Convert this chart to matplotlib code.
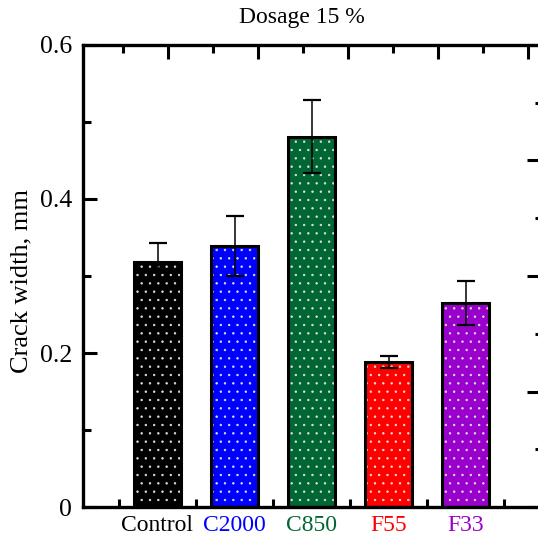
import matplotlib
matplotlib.use("Agg")
import matplotlib.pyplot as plt
from matplotlib.ticker import MultipleLocator, FixedLocator, NullFormatter

plt.rcParams['font.family'] = ['Liberation Serif', 'DejaVu Serif']
plt.rcParams['hatch.linewidth'] = 0.5

categories = ["Control", "C2000", "C850", "F55", "F33"]
values = [0.318, 0.339, 0.481, 0.188, 0.265]
errors = [0.025, 0.039, 0.047, 0.008, 0.028]
colors = ["#000000", "#0000ff", "#006633", "#ff0000", "#9900cc"]
yticks = [0, 0.2, 0.4, 0.6]
ytick_labels = ["0", "0.2", "0.4", "0.6"]
title = "Dosage 15 %"
ylabel = "Crack width, mm"

W, H = 538, 541
fig = plt.figure(figsize=(W / 100, H / 100), dpi=100)
left_px, right_px, top_px, bot_px = 82.7, 541, 45, 507
ax = fig.add_axes([left_px / W, (H - bot_px) / H, (right_px - left_px) / W, (bot_px - top_px) / H])

x = list(range(1, len(categories) + 1))
bw = 0.62
ax.bar(x, values, width=bw, color=colors, edgecolor="#e0e0e0", hatch="..", linewidth=0, zorder=2)
ax.bar(x, values, width=bw, fill=False, edgecolor="black", linewidth=2.2, zorder=3)
ax.errorbar(x, values, yerr=errors, fmt="none", ecolor="black", elinewidth=1.1,
            capsize=6.5, capthick=1.6, zorder=4)

# top secondary ticks
axt = ax.twiny()
axt.set_xlim((left_px - 78) / 90, (right_px - 78) / 90)
axt.xaxis.set_major_locator(MultipleLocator(1))
axt.xaxis.set_minor_locator(MultipleLocator(0.5))
axt.tick_params(axis="x", which="major", direction="in", length=10, width=2.2, labeltop=False, bottom=False)
axt.tick_params(axis="x", which="minor", direction="in", length=5.5, width=2.2, bottom=False)
axt.tick_params(axis="y", which="both", left=False, right=False, labelleft=False, labelright=False)
for s in axt.spines.values():
    s.set_visible(False)

# right secondary ticks
axr = ax.twinx()
axr.set_ylim(0, 4)
axr.yaxis.set_major_locator(MultipleLocator(1))
axr.yaxis.set_minor_locator(MultipleLocator(0.5))
axr.tick_params(axis="y", which="major", direction="in", length=10, width=2.2, labelright=False, left=False)
axr.tick_params(axis="y", which="minor", direction="in", length=4, width=2.2, left=False)
axr.tick_params(axis="x", which="both", bottom=False, top=False, labelbottom=False, labeltop=False)
for s in axr.spines.values():
    s.set_visible(False)

ax.set_ylim(0, 0.6)
ax.set_xlim(1 - (157.5 - left_px) / 77, 1 + (right_px - 157.5) / 77)

ax.set_yticks(yticks)
ax.set_yticklabels(ytick_labels)
ax.yaxis.set_minor_locator(MultipleLocator(0.1))
ax.set_xticks(x)
ax.set_xticklabels(categories)
ax.xaxis.set_minor_locator(FixedLocator([i + 0.5 for i in range(0, len(categories) + 1)]))
ax.xaxis.set_minor_formatter(NullFormatter())

for lab, c in zip(ax.get_xticklabels(), colors):
    lab.set_color(c)

ax.tick_params(axis="y", which="major", direction="in", length=10, width=2.2, labelsize=18.5, pad=7.5,
               right=False, left=True, labelleft=True)
ax.tick_params(axis="y", which="minor", direction="in", length=5.5, width=2.2, right=False, left=True)
ax.tick_params(axis="x", which="major", length=0, labelsize=17, pad=6, top=False)
ax.tick_params(axis="x", which="minor", direction="in", length=5.5, width=2.2, top=False)

for s in ax.spines.values():
    s.set_linewidth(2.4)

ax.set_ylabel(ylabel, fontsize=19)
ax.yaxis.set_label_coords((32 - left_px) / (right_px - left_px), 0.49)
fig.text(302 / W, 1 - 17 / H, title, ha="center", va="center", fontsize=17)

fig.savefig("out.png", dpi=100)
